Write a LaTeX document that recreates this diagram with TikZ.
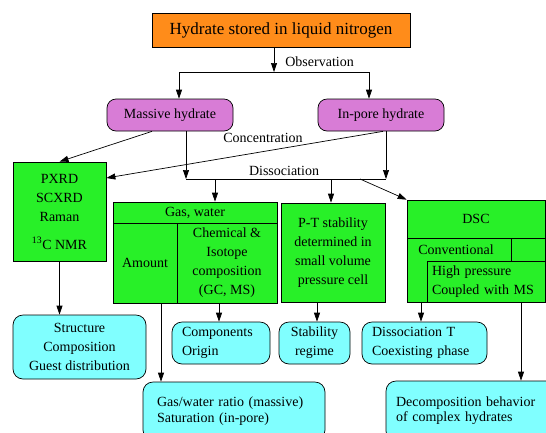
\documentclass[tikz,border=0pt]{standalone}
\usepackage{fontspec}
\setmainfont{Liberation Serif}
\newfontfamily\diagfont{Liberation Serif}
\usetikzlibrary{arrows.meta,positioning}

\definecolor{hydorange}{RGB}{255,140,26}
\definecolor{phaseviolet}{RGB}{216,124,214}
\definecolor{methgreen}{RGB}{40,240,40}
\definecolor{resultcyan}{RGB}{128,255,255}

\begin{document}
\begin{tikzpicture}[x=1pt, y=-1pt,
->,
>={Triangle[length=9pt,width=6pt]},
line width=0.7pt,
every node/.style={font=\diagfont\fontsize{14}{19}\selectfont, inner sep=0pt},
titlebox/.style={rectangle, draw=black, fill=hydorange, minimum width=258pt, minimum height=34pt, font=\diagfont\fontsize{17}{20}\selectfont},
phasebox/.style={rectangle, rounded corners=9pt, draw=black, fill=phaseviolet, minimum width=126pt, minimum height=32pt},
methodbox/.style={rectangle, draw=black, fill=methgreen, align=center},
resultbox/.style={rectangle, rounded corners=10pt, draw=black, fill=resultcyan, align=center},
leftres/.style={resultbox, align=left, inner xsep=10pt},
]
  \useasboundingbox (0,0) rectangle (546,432);
  \clip (0,0) rectangle (546,432);

  % sample and the two hydrate types
  \node (title) [titlebox] at (281,30) {Hydrate stored in liquid nitrogen};
  \node (massive) [phasebox] at (170,115) {Massive hydrate};
  \node (inpore) [phasebox] at (381,115) {In-pore hydrate};

  % methods
  \node (pxrd) [methodbox, minimum width=93pt, minimum height=99pt] at (59.5,211.5) {PXRD\\SCXRD\\Raman\\[9pt]\textsuperscript{13}C NMR};
  \node (gasHead) [methodbox, minimum width=164pt, minimum height=21pt] at (195,212.5) {Gas, water};
  \node (amount) [methodbox, minimum width=64pt, minimum height=80pt] at (145,263) {Amount};
  \node (chemIso) [methodbox, minimum width=100pt, minimum height=80pt] at (227,263) {Chemical \&\\Isotope\\composition\\(GC, MS)};
  \node (ptCell) [methodbox, minimum width=104pt, minimum height=99pt] at (333,252.5) {P-T stability\\determined in\\small volume\\pressure cell};
  \node (dscBox) [methodbox, minimum width=138pt, minimum height=102pt] at (476,251) {};
  \node (dscHead) [methodbox, minimum width=138pt, minimum height=38pt] at (476,219) {DSC};
  \node (dscGap) [methodbox, minimum width=34pt, minimum height=23pt] at (528,249.5) {};
  \node (conv) at (456,250) {Conventional};
  \node (hpMS) [methodbox, align=left, text width=108pt, inner xsep=5pt, minimum height=41pt] at (486,281.5) {High pressure\\Coupled with MS};

  % results
  \node (structure) [resultbox, minimum width=133pt, minimum height=64pt] at (79.5,347) {Structure\\Composition\\Guest distribution};
  \node (components) [leftres, text width=78pt, minimum height=42pt] at (221,343) {Components\\Origin};
  \node (stability) [resultbox, minimum width=71pt, minimum height=42pt] at (314.5,343) {Stability\\regime};
  \node (dissT) [leftres, text width=105pt, minimum height=42pt] at (424.5,343) {Dissociation T\\Coexisting phase};
  \node (gasRatio) [resultbox, align=left, inner xsep=14pt, text width=154pt, minimum height=58pt] at (234,411) {Gas/water ratio (massive)\\[-3pt]Saturation (in-pore)};
  \node (decomp) [leftres, text width=154pt, minimum height=60pt] at (473,411) {Decomposition behavior\\[-4pt]of complex hydrates};

  % labels on the connectors
  \node (obsLabel) [anchor=west] at (285,62) {Observation};
  \node (concLabel) at (263,138) {Concentration};
  \node (dissLabel) at (284,171) {Dissociation};

  \coordinate (obsJ) at (274,72);
  \coordinate (obsL) at (179,72);
  \coordinate (obsR) at (369,72);
  \coordinate (dissL) at (186,179);
  \coordinate (dissR) at (386,179);
  \coordinate (toGas) at (215,179);
  \coordinate (toPT) at (331,179);
  \coordinate (toDSC) at (360,179);
  \coordinate (amtOut) at (161,303);
  \coordinate (chemOut) at (219,303);
  \coordinate (ptOut) at (317,302);
  \coordinate (dscOut) at (421,302);
  \coordinate (hpOut) at (521,302);

  \draw (title.south -| obsJ) -- (obsJ);
  \draw[-] (obsL) -- (obsR);
  \draw (obsL) -- (obsL |- massive.north);
  \draw (obsR) -- (obsR |- inpore.north);

  \draw ([xshift=-18pt]massive.south) -- (pxrd.north);
  \draw ([xshift=2pt]inpore.south) -- ([yshift=33.5pt]pxrd.east);

  \draw (massive.south -| dissL) -- (dissL);
  \draw (inpore.south -| dissR) -- (dissR);
  \draw[-] (dissL) -- (dissR);
  \draw (toGas) -- (toGas |- gasHead.north);
  \draw (toPT) -- (toPT |- ptCell.north);
  \draw (toDSC) -- (dscHead.north west);

  \draw (pxrd.south) -- (pxrd.south |- structure.north);
  \draw (amtOut) -- (amtOut |- gasRatio.north);
  \draw (chemOut) -- (chemOut |- components.north);
  \draw (ptOut) -- (ptOut |- stability.north);
  \draw (dscOut) -- (dscOut |- dissT.north);
  \draw (hpOut) -- (hpOut |- decomp.north);
\end{tikzpicture}
\end{document}
